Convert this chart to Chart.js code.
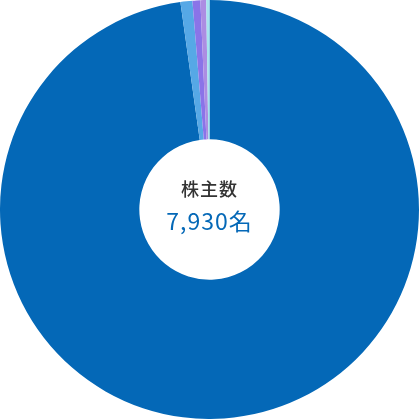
<!DOCTYPE html>
<html lang="ja">
<head>
<meta charset="utf-8">
<script src="https://cdn.jsdelivr.net/npm/chart.js@4.4.1/dist/chart.umd.min.js"></script>
<style>
    html, body { margin: 0; padding: 0; background: #fff; }
    #wrap { width: 419px; height: 419px; position: relative; }
</style>
</head>
<body>
<div id="wrap"><canvas id="holderChart"></canvas></div>
<script>
// Shareholder breakdown (people)
const labels = ["個人・その他", "その他の法人", "外国法人等", "金融商品取引業者", "金融機関"];
const holders = [7754, 73, 48, 35, 20];
const colors = ["#0468b7", "#56a8e6", "#8a74e8", "#ac8de2", "#a6e4f0"];

const centerTitle = "株主数";
const centerValue = "7,930名";

// Draw the text inside the hole
const centerText = {
    id: "centerText",
    afterDraw(chart) {
        const ctx = chart.ctx;
        const meta = chart.getDatasetMeta(0).data[0];
        const x = meta.x;
        const y = meta.y;
        ctx.save();
        ctx.textAlign = "center";
        ctx.textBaseline = "middle";
        ctx.fillStyle = "#333333";
        ctx.font = "500 18px 'Noto Sans CJK JP'";
        ctx.letterSpacing = "1px";
        ctx.fillText(centerTitle, x, y - 20);
        ctx.fillStyle = "#0468b7";
        ctx.font = "400 23px 'Noto Sans CJK JP'";
        ctx.fillText(centerValue, x, y + 12);
        ctx.restore();
    }
};

new Chart(document.getElementById("holderChart"), {
    type: "doughnut",
    data: {
        labels: labels,
        datasets: [{
            data: holders,
            backgroundColor: colors,
            borderWidth: 0
        }]
    },
    options: {
        responsive: true,
        maintainAspectRatio: false,
        animation: false,
        cutout: "33.5%",
        layout: { padding: 0 },
        plugins: {
            legend: { display: false },
            tooltip: { enabled: false }
        }
    },
    plugins: [centerText]
});
</script>
</body>
</html>
